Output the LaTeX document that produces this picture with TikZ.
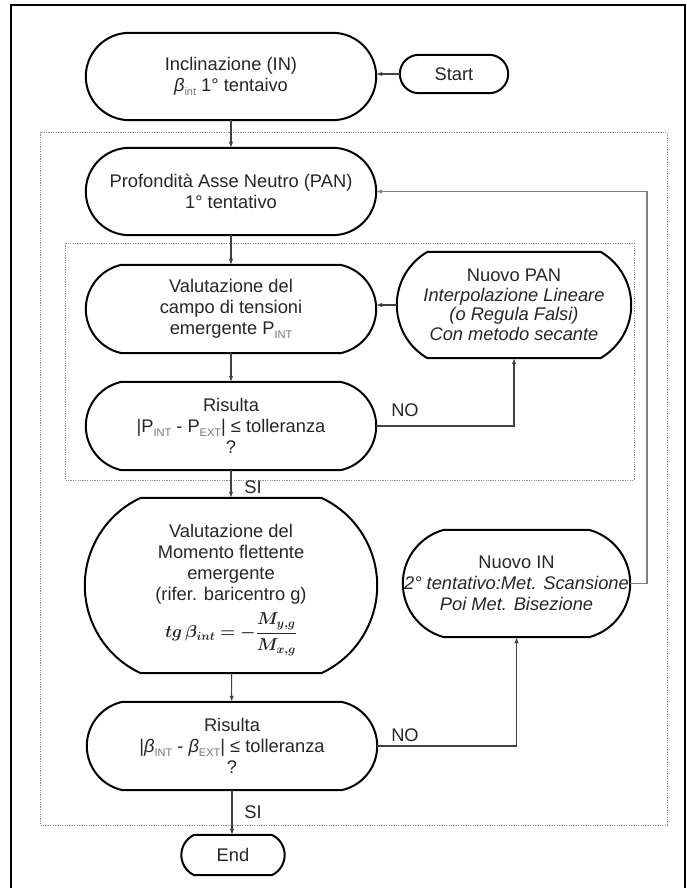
\documentclass[tikz,border=0pt]{standalone}
\usepackage{fontspec}
\setmainfont{Liberation Sans}
\usepackage{amsmath}
\usepackage{bm}
\usetikzlibrary{calc}
\usetikzlibrary{arrows.meta}

% small grey index, as in P_INT
\newcommand{\lowidx}[1]{\raisebox{-0.45ex}{\fontsize{11}{11}\selectfont\color{black!55}#1}}
% outline of a step: flat top and bottom, circular ends (#2 = half angle of the end arcs)
\newcommand{\flowoutline}[2]{%
  \path let \p1 = (#1.north east), \p2 = (#1.south west),
    \n1 = {(\y1-\y2)/2/sin(#2)}, \n2 = {\n1*(1-cos(#2))} in
    [draw=black, line width=2pt]
    (\x2+\n2*1pt,\y1) -- (\x1-\n2*1pt,\y1)
    arc[start angle=#2, end angle=-#2, radius=\n1*1pt]
    -- (\x2+\n2*1pt,\y2)
    arc[start angle=180+#2, end angle=180-#2, radius=\n1*1pt] -- cycle;}

\begin{document}
\begin{tikzpicture}[x=1pt, y=-1pt, >={Latex[length=6pt,width=4.5pt]},
    every node/.style={font=\fontsize{18.3}{21}\selectfont, text=black!85},
    stepbox/.style={align=center, inner sep=0pt},
    link/.style={draw=black!75, line width=1.1pt},
    backlink/.style={draw=black!50, line width=1.1pt},
    loopframe/.style={draw=black!45, line width=0.8pt, dash pattern=on 1.2pt off 1.2pt}]
    \useasboundingbox (0,0) rectangle (687,888);
    \fill[white] (0,0) rectangle (687,888);
    \draw[line width=1.8pt] (11,895) -- (11,5) -- (685,5) -- (685,895);

    % loops
    \draw[loopframe] (40,132) rectangle (667,825);
    \draw[loopframe] (65,243) rectangle (634,480);

    \node (incl)[stepbox, minimum width=290pt, minimum height=87pt]
        at (231,76.5) {Inclinazione (IN)\\\textit{β}\lowidx{int} 1° tentaivo};
    \node (start)[stepbox, minimum width=108pt, minimum height=38pt]
        at (454,74) {Start};
    \node (pan)[stepbox, minimum width=290pt, minimum height=87pt]
        at (231,191.5) {Profondità Asse Neutro (PAN)\\1° tentativo};
    \node (valt)[stepbox, minimum width=290pt, minimum height=88pt]
        at (231,309) {Valutazione del\\campo di tensioni\\emergente P\lowidx{INT}};
    \node (npan)[stepbox, minimum width=234pt, minimum height=106pt,
        font=\fontsize{18.3}{19.5}\selectfont]
        at (514,305) {Nuovo PAN\\\textit{Interpolazione Lineare}\\\textit{(o Regula Falsi)}\\\textit{Con metodo secante}};
    \node (ris1)[stepbox, minimum width=290pt, minimum height=88pt]
        at (231,426) {Risulta\\|P\lowidx{INT} - P\lowidx{EXT}| ≤ tolleranza\\?};
    \node (mom)[stepbox, minimum width=292pt, minimum height=175pt]
        at (231,585.5) {\rule{0pt}{22pt}Valutazione del\\Momento flettente\\emergente\\(rifer. baricentro g)\\[8pt]
        {\fontsize{17}{20}\selectfont$\bm{tg\,\beta_{int}=-\dfrac{M_{y,g}}{M_{x,g}}}$}};
    \node (nin)[stepbox, minimum width=227pt, minimum height=107pt]
        at (516.5,583.5) {Nuovo IN\\\textit{2° tentativo:Met. Scansione}\\\textit{Poi Met. Bisezione}};
    \node (ris2)[stepbox, minimum width=290pt, minimum height=88pt]
        at (232,746) {Risulta\\|\textit{β}\lowidx{INT} - \textit{β}\lowidx{EXT}| ≤ tolleranza\\?};
    \node (endn)[stepbox, minimum width=103pt, minimum height=40pt]
        at (233,855) {End};

    \flowoutline{incl}{90}
    \flowoutline{start}{88}
    \flowoutline{pan}{90}
    \flowoutline{valt}{78}
    \flowoutline{npan}{60}
    \flowoutline{ris1}{78}
    \flowoutline{mom}{65}
    \flowoutline{nin}{75}
    \flowoutline{ris2}{78}
    \flowoutline{endn}{65}

    \node (no1) at (405,410) {NO};
    \node (si1) at (253,487) {SI};
    \node (no2) at (405,735) {NO};
    \node (si2) at (253,812) {SI};
    \coordinate (ret) at (647,400);

    \path (start.west) edge[link, ->] (start.west -| incl.east);
    \path (incl) edge[link, ->] (pan);
    \path (pan) edge[link, ->] (valt);
    \path (valt) edge[link, ->] (ris1);
    \path (npan.west) edge[link, ->] (npan.west -| valt.east);
    \draw[link, ->] (ris1.east) -| (npan.south);
    \path (ris1) edge[link, ->] (mom);
    \path (mom) edge[link, ->] (ris2);
    \draw[link, ->] (ris2.east) -| (nin.south);
    \draw[backlink, ->] (nin.east) -- (nin.east -| ret) -- (ret |- pan.east) -- (pan.east);
    \path (ris2.south) edge[link, ->] (ris2.south |- endn.north);
\end{tikzpicture}
\end{document}
